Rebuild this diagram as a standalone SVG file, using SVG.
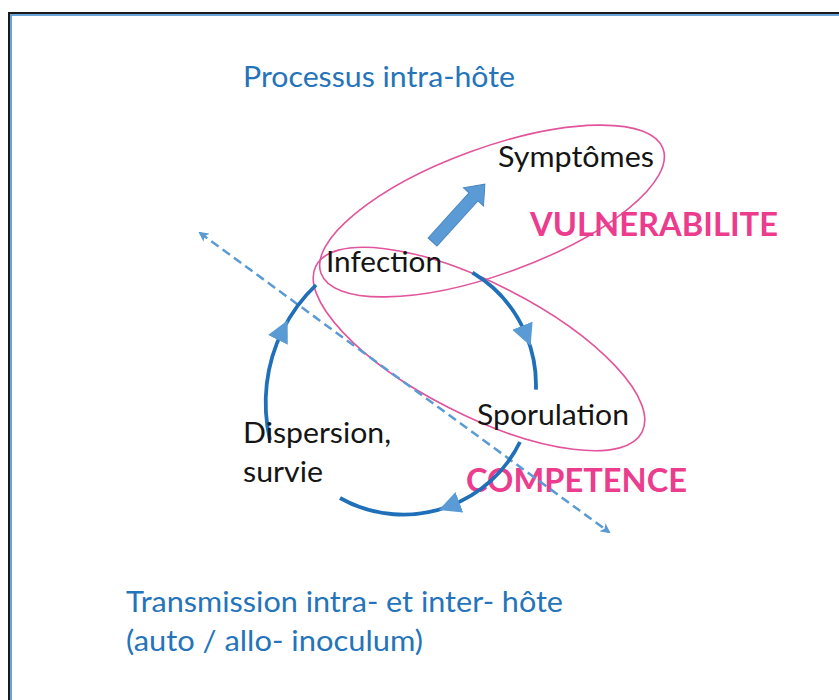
<svg xmlns="http://www.w3.org/2000/svg" width="839" height="700" viewBox="0 0 839 700">
  <style>
    text { font-family: Lato, "Open Sans", "Liberation Sans", sans-serif; }
    .title { font-size: 28px; fill: #2574BA; }
    .label { font-size: 28px; fill: #151515; }
    .domain { font-size: 33px; font-weight: bold; fill: #EB3C8E; }
    .zone { fill: none; stroke: #E2549B; stroke-width: 1.6; }
    .cycle { fill: none; stroke: #1F70B8; stroke-width: 3.8; marker-mid: url(#cycleHead); }
    .transfer { fill: none; stroke: #5B9BD5; stroke-width: 2.5; stroke-dasharray: 9 5; marker-start: url(#dashHead); marker-end: url(#dashHead); }
  </style>
  <defs>
    <marker id="cycleHead" markerUnits="userSpaceOnUse" viewBox="0 0 22 22" markerWidth="22" markerHeight="22" refX="11" refY="11" orient="auto">
      <path d="M0,0 L22,11 L0,22 Z" fill="#5B9BD5"/>
    </marker>
    <marker id="dashHead" markerUnits="userSpaceOnUse" viewBox="0 0 10 10" markerWidth="10" markerHeight="10" refX="8" refY="5" orient="auto-start-reverse">
      <path d="M0,0 L10,5 L0,10 L2.5,5 Z" fill="#5B9BD5"/>
    </marker>
  </defs>

  <!-- page background and double frame -->
  <rect x="0" y="0" width="839" height="700" fill="#FFFFFF"/>
  <rect x="9" y="13" width="900" height="760" fill="none" stroke="#1A1A1A" stroke-width="2"/>
  <rect x="11" y="15" width="900" height="760" fill="none" stroke="#5B9BD5" stroke-width="1.8"/>

  <!-- headings -->
  <text class="title" x="243" y="87" textLength="272" lengthAdjust="spacingAndGlyphs">Processus intra-hôte</text>
  <text class="title" x="126" y="612" textLength="437" lengthAdjust="spacingAndGlyphs">Transmission intra- et inter- hôte</text>
  <text class="title" x="126" y="651" textLength="297" lengthAdjust="spacingAndGlyphs">(auto / allo- inoculum)</text>

  <!-- grouping ellipses -->
  <g id="vulnerabilite">
    <ellipse class="zone" cx="492" cy="211" rx="182" ry="63" transform="rotate(-20 492 211)"/>
    <text class="domain" x="530" y="236" textLength="248" lengthAdjust="spacingAndGlyphs">VULNERABILITE</text>
  </g>
  <g id="competence">
    <ellipse class="zone" cx="479" cy="349" rx="183" ry="66" transform="rotate(27 479 349)"/>
    <text class="domain" x="466" y="492" textLength="221" lengthAdjust="spacingAndGlyphs">COMPETENCE</text>
  </g>

  <!-- connectors -->
  <g id="connectors">
    <path class="transfer" d="M200,233 L609,532"/>
    <path class="cycle" d="M472.5,272.7 A131,131 0 0 1 526.5,335.9 A131,131 0 0 1 535.9,389.6"/>
    <path class="cycle" d="M520,442 A129,129 0 0 1 449.1,506.2 A129,129 0 0 1 340,498"/>
    <path class="cycle" d="M270,440 A163,163 0 0 1 282.8,330 A163,163 0 0 1 316,285"/>
    <path d="M0,-6 L61,-6 L61,-13.5 L78,0 L61,13.5 L61,6 L0,6 Z" fill="#5B9BD5" stroke="#4A86BF" stroke-width="1" transform="translate(432.5 242) rotate(-47.8)"/>
  </g>

  <!-- nodes -->
  <g id="symptomes">
    <text class="label" x="498" y="167" textLength="156" lengthAdjust="spacingAndGlyphs">Symptômes</text>
  </g>
  <g id="infection">
    <text class="label" x="326" y="272" textLength="116" lengthAdjust="spacingAndGlyphs">Infection</text>
  </g>
  <g id="sporulation">
    <text class="label" x="477" y="425" textLength="152" lengthAdjust="spacingAndGlyphs">Sporulation</text>
  </g>
  <g id="dispersion">
    <text class="label" x="243" y="443" textLength="148" lengthAdjust="spacingAndGlyphs">Dispersion,</text>
    <text class="label" x="243" y="482" textLength="80" lengthAdjust="spacingAndGlyphs">survie</text>
  </g>
</svg>
